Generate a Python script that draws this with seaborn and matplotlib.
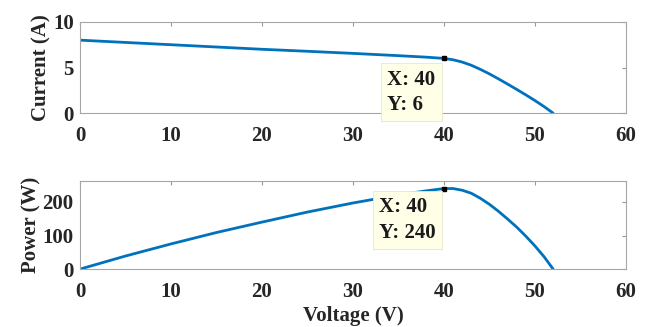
import numpy as np
import pandas as pd
import matplotlib
matplotlib.use('Agg')
import matplotlib.pyplot as plt
import seaborn as sns

# values
voltage = [0, 5, 10, 15, 20, 25, 30, 35, 38, 40, 41, 42, 43, 44, 45, 46, 47, 48, 49, 50, 51, 52]
current = [8.0, 7.75, 7.5, 7.25, 7.0, 6.78, 6.55, 6.3, 6.14, 6.0, 5.85, 5.6, 5.25, 4.8, 4.3, 3.75, 3.18, 2.6, 2.0, 1.38, 0.72, 0.0]
power = [0, 39, 75, 109, 140, 170, 197, 221, 233, 240, 240, 235, 226, 211, 193, 172, 149, 125, 98, 69, 37, 0]
tip_v = 40
tip_i = 6
tip_p = 240

df = pd.DataFrame({'Voltage': voltage, 'Current': current, 'Power': power})

sns.set_style('white')
plt.rcParams['font.family'] = ['Liberation Serif']
plt.rcParams['font.weight'] = 'bold'

fig = plt.figure(figsize=(6.5, 3.27), dpi=100)
ax1 = fig.add_axes([0.123, 0.654, 0.840, 0.279])
ax2 = fig.add_axes([0.123, 0.177, 0.840, 0.269])

blue = '#0072BD'
sns.lineplot(data=df, x='Voltage', y='Current', ax=ax1, color=blue, linewidth=2)
sns.lineplot(data=df, x='Voltage', y='Power', ax=ax2, color=blue, linewidth=2)

fs = 15
ax1.set_ylim(0, 10)
ax1.set_yticks([0, 5, 10])
ax2.set_ylim(0, 262)
ax2.set_yticks([0, 100, 200])
for ax in (ax1, ax2):
    ax.set_xlim(0, 60)
    ax.set_xticks(range(0, 61, 10))
    ax.tick_params(direction='in', length=3, top=True, right=True, color='#999999',
                   labelsize=fs)
    ax.tick_params(axis='x', pad=9)
    ax.tick_params(axis='y', pad=4.5)
    for lab in ax.get_xticklabels() + ax.get_yticklabels():
        lab.set_fontweight('bold')
        lab.set_color('#262626')
    for s in ax.spines.values():
        s.set_color('#a6a6a6')
        s.set_linewidth(0.8)

ax1.set_xlabel('')
ax1.set_ylabel('Current (A)', fontsize=fs, fontweight='bold', color='#262626', labelpad=1)
ax2.set_ylabel('Power (W)', fontsize=fs, fontweight='bold', color='#262626', labelpad=1)
ax2.set_xlabel('Voltage (V)', fontsize=fs, fontweight='bold', color='#262626', labelpad=3)

# data tips
box = dict(boxstyle='square,pad=0.3', fc='#ffffe8', ec='#e6e6d0', lw=0.6)
ax1.plot([tip_v], [tip_i], 's', color='black', ms=3.5)
ax1.annotate('X: %d\nY: %d' % (tip_v, tip_i), xy=(tip_v, tip_i), xytext=(-6, -8),
             textcoords='offset points', ha='right', va='top', multialignment='left',
             fontsize=fs, fontweight='bold', color='#1a1a1a', bbox=box, linespacing=1.35,
             annotation_clip=False)
ax2.plot([tip_v], [tip_p], 's', color='black', ms=3.5)
ax2.annotate('X: %d\nY: %d' % (tip_v, tip_p), xy=(tip_v, tip_p), xytext=(-6, -6),
             textcoords='offset points', ha='right', va='top', multialignment='left',
             fontsize=fs, fontweight='bold', color='#1a1a1a', bbox=box, linespacing=1.4,
             annotation_clip=False)

fig.savefig('out.png', dpi=100)
